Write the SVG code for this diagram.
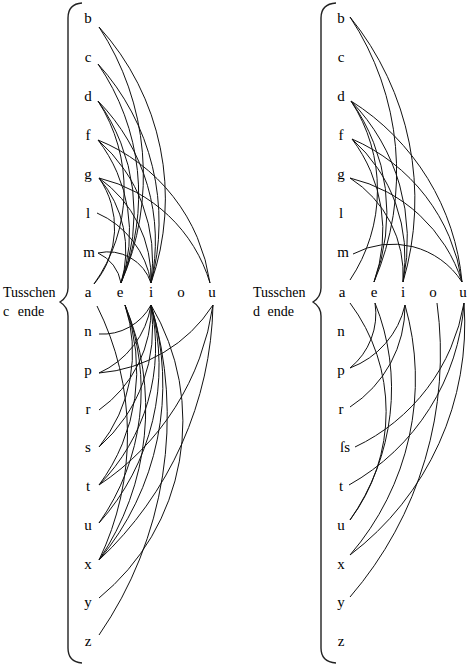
<svg xmlns="http://www.w3.org/2000/svg" width="470" height="664" viewBox="0 0 470 664">
<style>
.t{font-size:15px;fill:#000;text-anchor:middle}
.lab{font-size:14px;fill:#000}
.c path{fill:none;stroke:#111;stroke-width:1}
.br{fill:none;stroke:#222;stroke-width:1.4}
</style>
<rect width="470" height="664" fill="#fff"/>
<g id="brace-left"><path class="br" d="M82 3 Q68 4 68 18 L68 288 Q68 297 60 302 Q68 307 68 316 L68 648 Q68 662 82 663"/></g>
<g id="brace-right"><path class="br" d="M336 3 Q321 4 321 18 L321 288 Q321 297 313 302 Q321 307 321 316 L321 648 Q321 662 336 663"/></g>
<g id="texts" font-family="'Liberation Serif', 'DejaVu Serif', 'Times New Roman', serif">
<g id="label-left"><text class="lab" x="3" y="297">Tusschen</text><text class="lab" x="3" y="316" word-spacing="5">c ende</text></g>
<g id="label-right"><text class="lab" x="253" y="297">Tusschen</text><text class="lab" x="253" y="316" word-spacing="4">d ende</text></g>
<g id="L-b"><text class="t" x="88" y="23">b</text></g>
<g id="L-c"><text class="t" x="88" y="62">c</text></g>
<g id="L-d"><text class="t" x="88" y="101">d</text></g>
<g id="L-f"><text class="t" x="88" y="140">f</text></g>
<g id="L-g"><text class="t" x="88" y="179">g</text></g>
<g id="L-l"><text class="t" x="88" y="218">l</text></g>
<g id="L-m"><text class="t" x="89" y="257">m</text></g>
<g id="L-a"><text class="t" x="88" y="297">a</text></g>
<g id="L-e"><text class="t" x="120" y="297">e</text></g>
<g id="L-i"><text class="t" x="151" y="297">i</text></g>
<g id="L-o"><text class="t" x="181" y="297">o</text></g>
<g id="L-u"><text class="t" x="212" y="297">u</text></g>
<g id="L-n"><text class="t" x="88" y="336">n</text></g>
<g id="L-p"><text class="t" x="88" y="375">p</text></g>
<g id="L-r"><text class="t" x="88" y="414">r</text></g>
<g id="L-s"><text class="t" x="88" y="452">s</text></g>
<g id="L-t"><text class="t" x="88" y="491">t</text></g>
<g id="L-u2"><text class="t" x="88" y="530">u</text></g>
<g id="L-x"><text class="t" x="88" y="569">x</text></g>
<g id="L-y"><text class="t" x="88" y="607">y</text></g>
<g id="L-z"><text class="t" x="88" y="646">z</text></g>
<g id="R-b"><text class="t" x="341" y="23">b</text></g>
<g id="R-c"><text class="t" x="341" y="62">c</text></g>
<g id="R-d"><text class="t" x="341" y="101">d</text></g>
<g id="R-f"><text class="t" x="341" y="140">f</text></g>
<g id="R-g"><text class="t" x="341" y="179">g</text></g>
<g id="R-l"><text class="t" x="341" y="218">l</text></g>
<g id="R-m"><text class="t" x="343" y="257">m</text></g>
<g id="R-a"><text class="t" x="342" y="297">a</text></g>
<g id="R-e"><text class="t" x="374" y="297">e</text></g>
<g id="R-i"><text class="t" x="403" y="297">i</text></g>
<g id="R-o"><text class="t" x="433" y="297">o</text></g>
<g id="R-u"><text class="t" x="463" y="297">u</text></g>
<g id="R-n"><text class="t" x="341" y="336">n</text></g>
<g id="R-p"><text class="t" x="341" y="375">p</text></g>
<g id="R-r"><text class="t" x="341" y="414">r</text></g>
<g id="R-s"><text class="t" x="345" y="452">ſs</text></g>
<g id="R-t"><text class="t" x="341" y="491">t</text></g>
<g id="R-u2"><text class="t" x="341" y="530">u</text></g>
<g id="R-x"><text class="t" x="341" y="569">x</text></g>
<g id="R-y"><text class="t" x="341" y="607">y</text></g>
<g id="R-z"><text class="t" x="341" y="646">z</text></g>
</g>
<g id="connectors" class="c">
<path d="M99 27 A270 270 0 0 1 121 283"/>
<path d="M99 27 A255 255 0 0 1 151 283"/>
<path d="M98 64 A230 230 0 0 1 121 283"/>
<path d="M98 64 A235 235 0 0 1 151 283"/>
<path d="M98 101 A163 163 0 0 1 94 284"/>
<path d="M98 101 A192 192 0 0 1 121 283"/>
<path d="M98 101 A200 200 0 0 1 151 283"/>
<path d="M98 140 A152 152 0 0 1 121 283"/>
<path d="M98 140 A160 160 0 0 1 151 283"/>
<path d="M98 140 A182 182 0 0 1 210 283"/>
<path d="M99 178 A87 87 0 0 1 94 284"/>
<path d="M99 178 A112 112 0 0 1 121 283"/>
<path d="M99 178 A123 123 0 0 1 151 283"/>
<path d="M99 178 A153 153 0 0 1 210 283"/>
<path d="M97 213 A92 92 0 0 1 151 283"/>
<path d="M98 253 A40 40 0 0 1 121 283"/>
<path d="M98 253 A45 45 0 0 1 151 283"/>
<path d="M99 334 A55 55 0 0 0 151 305"/>
<path d="M99 373 A90 90 0 0 0 151 305"/>
<path d="M99 373 A150 150 0 0 0 213 305"/>
<path d="M99 410 A123 123 0 0 0 151 305"/>
<path d="M99 447 A151 151 0 0 0 125 305"/>
<path d="M99 447 A159 159 0 0 0 151 305"/>
<path d="M99 485 A191 191 0 0 0 125 305"/>
<path d="M99 485 A196 196 0 0 0 151 305"/>
<path d="M99 485 A260 260 0 0 0 213 305"/>
<path d="M99 523 A231 231 0 0 0 125 305"/>
<path d="M99 523 A235 235 0 0 0 151 305"/>
<path d="M99 560 A269 269 0 0 0 125 305"/>
<path d="M99 560 A273 273 0 0 0 151 305"/>
<path d="M99 560 A360 360 0 0 0 213 305"/>
<path d="M99 560 A288 288 0 0 0 97 306"/>
<path d="M99 598 A228 228 0 0 0 151 305"/>
<path d="M99 635 A386 386 0 0 0 151 305"/>
<path d="M350 17 A280 280 0 0 1 374 282"/>
<path d="M350 17 A290 290 0 0 1 403 282"/>
<path d="M351 101 A162 162 0 0 1 350 280"/>
<path d="M351 101 A192 192 0 0 1 374 282"/>
<path d="M351 101 A200 200 0 0 1 403 282"/>
<path d="M351 101 A239 239 0 0 1 462 282"/>
<path d="M352 139 A152 152 0 0 1 374 282"/>
<path d="M352 139 A158 158 0 0 1 403 282"/>
<path d="M352 139 A185 185 0 0 1 462 282"/>
<path d="M350 178 A115 115 0 0 1 403 282"/>
<path d="M350 178 A155 155 0 0 1 462 282"/>
<path d="M353 254 A83 83 0 0 1 462 282"/>
<path d="M350 368 A70 70 0 0 0 375 303"/>
<path d="M350 368 A88 88 0 0 0 405 305"/>
<path d="M350 407 A120 120 0 0 0 405 305"/>
<path d="M355 447 A195 195 0 0 0 464 303"/>
<path d="M349 485 A226 226 0 0 0 464 303"/>
<path d="M350 520 A181 181 0 0 0 350 303"/>
<path d="M350 520 A229 229 0 0 0 375 303"/>
<path d="M350 555 A269 269 0 0 0 405 305"/>
<path d="M350 555 A290 290 0 0 0 464 303"/>
<path d="M350 597 A373 373 0 0 0 437 303"/>
</g>
</svg>
